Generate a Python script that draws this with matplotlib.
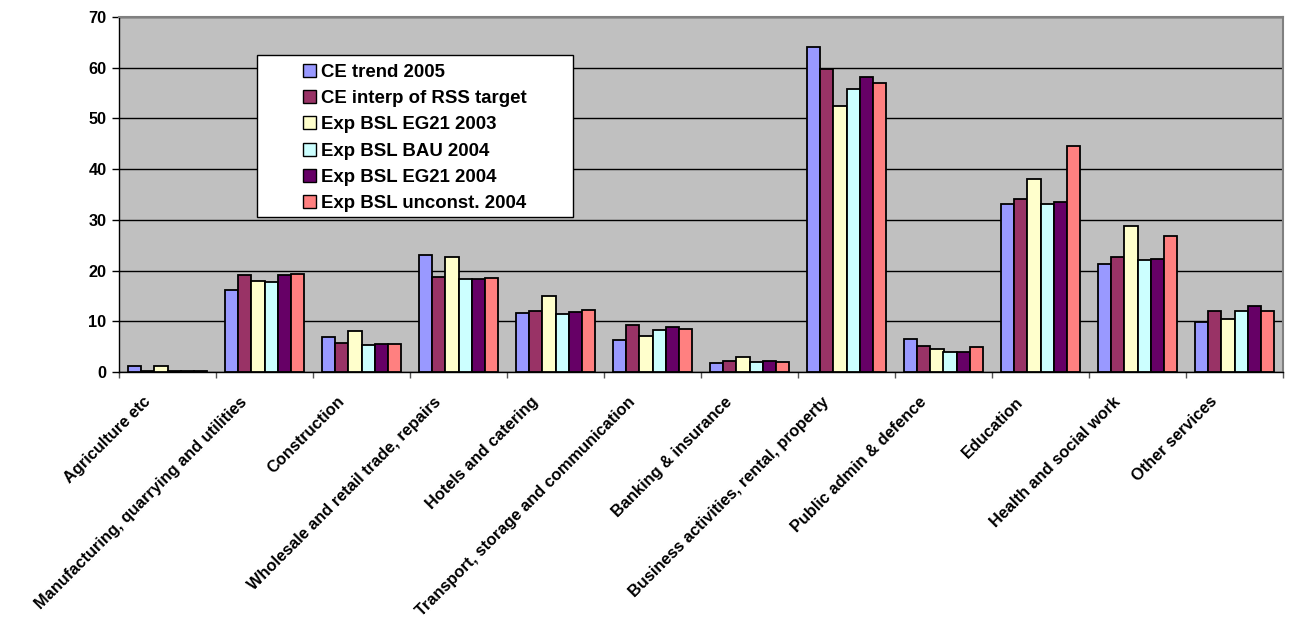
import matplotlib
matplotlib.use("Agg")
import matplotlib.pyplot as plt
import matplotlib.transforms as mtransforms
from matplotlib.font_manager import FontProperties
from matplotlib.patches import Rectangle, Patch
import numpy as np

categories = [
    "Agriculture etc",
    "Manufacturing, quarrying and utilities",
    "Construction",
    "Wholesale and retail trade, repairs",
    "Hotels and catering",
    "Transport, storage and communication",
    "Banking & insurance",
    "Business activities, rental, property",
    "Public admin & defence",
    "Education",
    "Health and social work",
    "Other services",
]

series_names = [
    "CE trend 2005",
    "CE interp of RSS target",
    "Exp BSL EG21 2003",
    "Exp BSL BAU 2004",
    "Exp BSL EG21 2004",
    "Exp BSL unconst. 2004",
]

ce_trend_2005 = [1.1, 16.2, 7.0, 23.1, 11.7, 6.4, 1.8, 64.0, 6.5, 33.1, 21.3, 9.9]
ce_interp_rss = [0.1, 19.1, 5.8, 18.7, 12.0, 9.2, 2.2, 59.8, 5.1, 34.2, 22.6, 12.1]
exp_eg21_2003 = [1.2, 18.0, 8.0, 22.6, 15.0, 7.1, 2.9, 52.5, 4.5, 38.0, 28.7, 10.4]
exp_bau_2004 = [0.1, 17.7, 5.4, 18.4, 11.5, 8.3, 2.0, 55.9, 3.95, 33.2, 22.1, 12.1]
exp_eg21_2004 = [0.1, 19.1, 5.6, 18.3, 11.8, 8.9, 2.2, 58.1, 3.9, 33.5, 22.2, 13.0]
exp_unconst_2004 = [0.25, 19.4, 5.5, 18.6, 12.2, 8.5, 2.0, 57.0, 4.9, 44.5, 26.8, 12.1]

series_values = [ce_trend_2005, ce_interp_rss, exp_eg21_2003,
                 exp_bau_2004, exp_eg21_2004, exp_unconst_2004]
series_colors = ["#9999FF", "#993366", "#FFFFCC", "#CCFFFF", "#660066", "#FF8080"]

y_ticks = [0, 10, 20, 30, 40, 50, 60, 70]

plt.rcParams["font.family"] = ["Liberation Sans", "DejaVu Sans"]
plt.rcParams["font.weight"] = "bold"

fig = plt.figure(figsize=(12.9, 6.23), dpi=100)
ax = fig.add_axes([119 / 1290, 1 - 372 / 623, (1283 - 119) / 1290, (372 - 17) / 623])
ax.set_facecolor("#C0C0C0")

n = len(series_values)
x = np.arange(len(categories))
group_width = 0.814
bar_w = group_width / n
for i, (vals, col, name) in enumerate(zip(series_values, series_colors, series_names)):
    offs = -group_width / 2 + bar_w * (i + 0.5)
    ax.bar(x + offs, vals, width=bar_w, color=col, edgecolor="black",
           linewidth=1.3, label=name, zorder=3)

ax.set_xlim(-0.5, len(categories) - 0.5)
ax.set_ylim(0, 70)
ax.set_yticks(y_ticks)
ax.set_yticklabels([str(t) for t in y_ticks], fontsize=11.7, fontweight="bold")
ax.yaxis.grid(True, color="black", linewidth=1.0, zorder=0)
ax.set_axisbelow(True)
ax.tick_params(axis="y", length=5, width=1, direction="out", pad=4)

# category boundary ticks on the x axis, labels at category centres
ax.set_xticks(np.arange(-0.5, len(categories)))
ax.set_xticklabels([])
ax.tick_params(axis="x", which="major", length=4, width=1, direction="out", color="#555555")

offset = mtransforms.ScaledTranslation(-25 / 100, -22 / 100, fig.dpi_scale_trans)
trans = mtransforms.blended_transform_factory(ax.transData, ax.transAxes) + offset
for xi, lab in zip(x, categories):
    ax.text(xi, 0, lab, rotation=45, ha="right", va="top", rotation_mode="anchor",
            transform=trans, fontsize=11.8, fontweight="bold")

for side in ("left", "bottom"):
    ax.spines[side].set_color("black")
    ax.spines[side].set_linewidth(1.0)
for side in ("top", "right"):
    ax.spines[side].set_color("#808080")
    ax.spines[side].set_linewidth(1.5)

# legend box
box_l, box_r = (257 - 119) / 1164, (573 - 119) / 1164
box_t, box_b = (372 - 55) / 355, (372 - 217) / 355
ax.add_patch(Rectangle((box_l, box_b), box_r - box_l, box_t - box_b,
                       transform=ax.transAxes, facecolor="white",
                       edgecolor="black", linewidth=1.0, zorder=5))
legend_font = FontProperties(family="Liberation Sans", weight="bold", size=13.4)
handles = [Patch(facecolor=c, edgecolor="black", linewidth=1.0) for c in series_colors]
leg = ax.legend(handles, series_names, loc="center",
                bbox_to_anchor=((box_l + box_r) / 2, (box_t + box_b) / 2 - 0.006),
                frameon=False, prop=legend_font,
                handlelength=0.7, handleheight=0.7, handletextpad=0.25,
                labelspacing=0.5, borderpad=0)
leg.set_zorder(6)

fig.savefig("out.png", dpi=100, facecolor="white")
